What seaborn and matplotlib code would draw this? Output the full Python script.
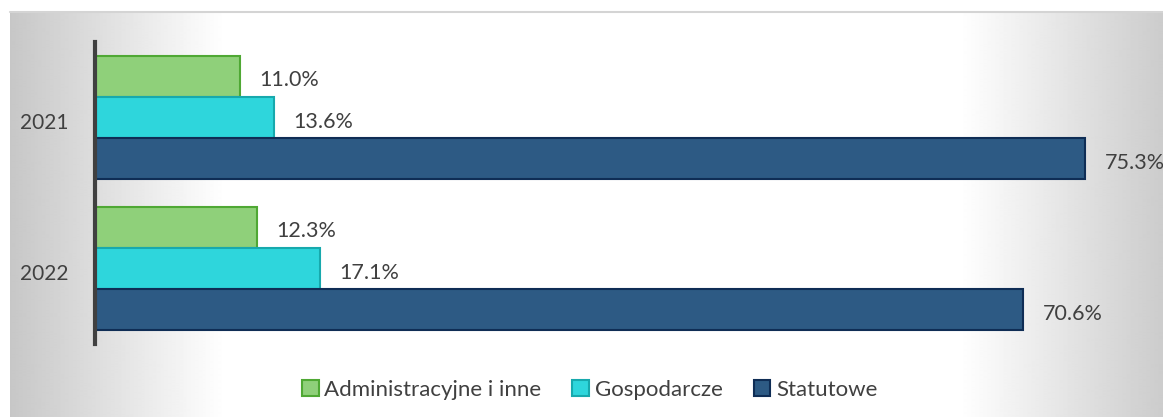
import numpy as np
import pandas as pd
import matplotlib.pyplot as plt
import matplotlib.transforms as mtrans
import seaborn as sb
from matplotlib.patches import Patch

years = ['2021', '2022']
categories = ['Administracyjne i inne', 'Gospodarcze', 'Statutowe']
admin = [11.0, 12.3]
gosp = [13.6, 17.1]
stat = [75.3, 70.6]

fills = ['#8fd07a', '#2ed6dc', '#2d5a84']
edges = ['#4fa834', '#17a9ad', '#0f2d55']
txt = '#404040'

df = pd.DataFrame({
    'year': years * 3,
    'category': [categories[0]] * 2 + [categories[1]] * 2 + [categories[2]] * 2,
    'value': admin + gosp + stat,
})

sb.set_style('white')
plt.rcParams['font.family'] = ['Lato', 'DejaVu Sans']

W, H = 1163, 417
fig = plt.figure(figsize=(W / 100, H / 100), dpi=100)

# gradient background panel
bg = fig.add_axes([10 / W, 0, 1 - 10 / W, (H - 12) / H], zorder=-5)
xs = np.arange(10, W)
shade = np.ones_like(xs, dtype=float)
left = xs < 225
shade[left] = 0.78 + (1 - 0.78) * (xs[left] - 10) / 215
right = xs > 960
shade[right] = 1 - (1 - 0.80) * (xs[right] - 960) / (W - 960)
bg.imshow(np.tile(shade, (2, 1)), cmap='gray', vmin=0, vmax=1, aspect='auto',
          extent=[0, 1, 0, 1], interpolation='bilinear')
bg.set_axis_off()
fig.add_artist(plt.Line2D([10 / W, 1], [(H - 12) / H] * 2, color='#d4d4d4', lw=1.5))

ax = fig.add_axes([95 / W, (H - 344) / H, 1052 / W, 302 / H])
ax.patch.set_alpha(0)
sb.barplot(data=df, y='year', x='value', hue='category', orient='h',
           palette=fills, saturation=1, width=0.82, linewidth=1.5, ax=ax, legend=False)

for cont, ec, vals in zip(ax.containers, edges, [admin, gosp, stat]):
    for bar in cont:
        bar.set_edgecolor(ec)
    labs = ax.bar_label(cont, labels=[f'{v:.1f}%' for v in vals], padding=14,
                        fontsize=15.5, color=txt)
    for t in labs:
        t.xyann = (t.xyann[0], t.xyann[1] - 3)

ax.set_xlim(0, 80)
ax.set_ylim(1.5, -0.5)
ax.set_xlabel('')
ax.set_ylabel('')
ax.set_xticks([])
ax.tick_params(axis='y', length=0, pad=19, labelsize=15, labelcolor=txt)
shift = mtrans.ScaledTranslation(0, -4 / 100, fig.dpi_scale_trans)
for lab in ax.get_yticklabels():
    lab.set_transform(lab.get_transform() + shift)
for s in ['top', 'right', 'bottom']:
    ax.spines[s].set_visible(False)
ax.spines['left'].set_color('#404040')
ax.spines['left'].set_linewidth(3)

handles = [Patch(facecolor=f, edgecolor=e, linewidth=1.5) for f, e in zip(fills, edges)]
fig.legend(handles, categories, loc='center', bbox_to_anchor=(0.507, 0.065), ncol=3,
           frameon=False, fontsize=16, handlelength=0.75, handleheight=0.75,
           handletextpad=0.25, columnspacing=1.4, labelcolor=txt)

fig.savefig('out.png', dpi=100)
